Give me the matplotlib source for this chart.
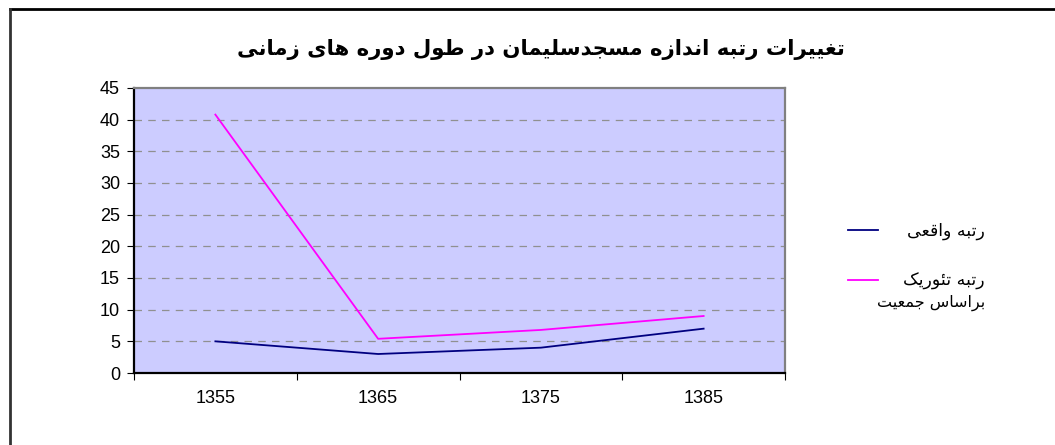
import matplotlib
matplotlib.use("Agg")
import matplotlib.pyplot as plt
from matplotlib.lines import Line2D

years = ["1355", "1365", "1375", "1385"]
actual_rank = [5, 3, 4, 7]
theoretical_rank = [40.8, 5.4, 6.8, 9.0]
y_ticks = [0, 5, 10, 15, 20, 25, 30, 35, 40, 45]

title = "تغییرات رتبه اندازه مسجدسلیمان در طول دوره های زمانی"
label_actual = "رتبه واقعی"
label_theory = ["رتبه تئوریک", "براساس جمعیت"]

# presentation forms: isolated, final, initial, medial (2 forms = right-joining only)
FORMS = {
    "\u0627": ("\uFE8D", "\uFE8E"),
    "\u0628": ("\uFE8F", "\uFE90", "\uFE91", "\uFE92"),
    "\u062A": ("\uFE95", "\uFE96", "\uFE97", "\uFE98"),
    "\u062C": ("\uFE9D", "\uFE9E", "\uFE9F", "\uFEA0"),
    "\u062F": ("\uFEA9", "\uFEAA"),
    "\u0631": ("\uFEAD", "\uFEAE"),
    "\u0632": ("\uFEAF", "\uFEB0"),
    "\u0633": ("\uFEB1", "\uFEB2", "\uFEB3", "\uFEB4"),
    "\u0637": ("\uFEC1", "\uFEC2", "\uFEC3", "\uFEC4"),
    "\u0639": ("\uFEC9", "\uFECA", "\uFECB", "\uFECC"),
    "\u063A": ("\uFECD", "\uFECE", "\uFECF", "\uFED0"),
    "\u0642": ("\uFED5", "\uFED6", "\uFED7", "\uFED8"),
    "\u0644": ("\uFEDD", "\uFEDE", "\uFEDF", "\uFEE0"),
    "\u0645": ("\uFEE1", "\uFEE2", "\uFEE3", "\uFEE4"),
    "\u0646": ("\uFEE5", "\uFEE6", "\uFEE7", "\uFEE8"),
    "\u0647": ("\uFEE9", "\uFEEA", "\uFEEB", "\uFEEC"),
    "\u0648": ("\uFEED", "\uFEEE"),
    "\u0626": ("\uFE89", "\uFE8A", "\uFE8B", "\uFE8C"),
    "\u06CC": ("\uFBFC", "\uFBFD", "\uFBFE", "\uFBFF"),
    "\u06A9": ("\uFB8E", "\uFB8F", "\uFB90", "\uFB91"),
}


def shape(s):
    # simple arabic shaping + reversal to visual order
    out = []
    for i, c in enumerate(s):
        if c not in FORMS:
            out.append(c)
            continue
        forms = FORMS[c]
        prev = s[i - 1] if i > 0 else None
        nxt = s[i + 1] if i + 1 < len(s) else None
        joins_prev = prev in FORMS and len(FORMS[prev]) == 4
        joins_next = nxt in FORMS and len(forms) == 4
        if joins_prev and joins_next:
            out.append(forms[3])
        elif joins_prev:
            out.append(forms[1])
        elif joins_next:
            out.append(forms[2])
        else:
            out.append(forms[0])
    return "".join(reversed(out))


W, H = 1055, 445
fig = plt.figure(figsize=(W / 100, H / 100), dpi=100)
fig.patch.set_facecolor("white")

# outer chart border (top and left visible)
fig.add_artist(Line2D([9.5 / W, 1.0], [1 - 8.5 / H, 1 - 8.5 / H], color="black", lw=2))
fig.add_artist(Line2D([9.5 / W, 9.5 / W], [0, 1 - 8.5 / H], color="#333333", lw=2))

ax = fig.add_axes([134 / W, 1 - 373 / H, (785 - 134) / W, (373 - 88) / H])
ax.set_facecolor("#CCCCFF")

x = list(range(len(years)))
ax.plot(x, actual_rank, color="#000080", lw=1.3)
ax.plot(x, theoretical_rank, color="#FF00FF", lw=1.3)

ax.set_xlim(-0.5, len(years) - 0.5)
ax.set_ylim(0, 45)
ax.set_yticks(y_ticks)
ax.set_xticks([i - 0.5 for i in range(len(years) + 1)])
ax.set_xticklabels([])
ax.set_xticks(x, minor=True)
ax.set_xticklabels(years, minor=True)
ax.tick_params(axis="x", which="minor", length=0, pad=12)
ax.tick_params(axis="x", which="major", length=5, color="black")
ax.tick_params(axis="y", length=5, color="black", pad=5)
for lab in ax.get_yticklabels() + ax.get_xticklabels(minor=True):
    lab.set_fontfamily(["Liberation Sans", "DejaVu Sans"])
    lab.set_fontsize(13)

for v in y_ticks[1:-1]:
    ax.axhline(v, color="#909090", lw=0.9, ls=(0, (6, 5)), zorder=1)

ax.spines["left"].set_color("black")
ax.spines["bottom"].set_color("black")
ax.spines["top"].set_color("#808080")
ax.spines["right"].set_color("#808080")
for sp in ax.spines.values():
    sp.set_linewidth(1.6)

fig.text(541 / W, 1 - 50 / H, shape(title), ha="center", va="center",
         fontsize=15.3, fontweight="bold", family=["DejaVu Sans"])

# legend
fig.add_artist(Line2D([848 / W, 878 / W], [1 - 230 / H, 1 - 230 / H], color="#000080", lw=1.3))
fig.text(985 / W, 1 - 231 / H, shape(label_actual), ha="right", va="center",
         fontsize=12.5, family=["DejaVu Sans"])
fig.add_artist(Line2D([848 / W, 878 / W], [1 - 280 / H, 1 - 280 / H], color="#FF00FF", lw=1.3))
fig.text(985 / W, 1 - 281 / H, shape(label_theory[0]), ha="right", va="center",
         fontsize=12.5, family=["DejaVu Sans"])
fig.text(985 / W, 1 - 303 / H, shape(label_theory[1]), ha="right", va="center",
         fontsize=11.5, family=["DejaVu Sans"])

fig.savefig("out.png", dpi=100)
